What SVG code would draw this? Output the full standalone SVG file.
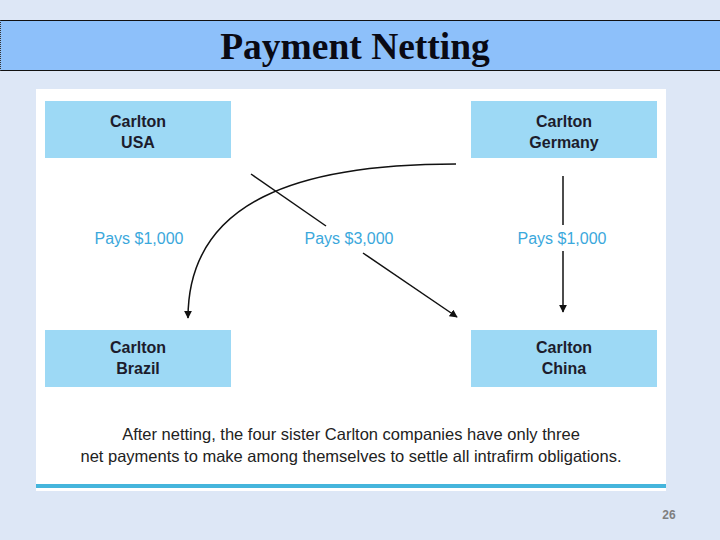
<svg xmlns="http://www.w3.org/2000/svg" width="720" height="540" viewBox="0 0 720 540">
<defs>
<style>
.node rect{fill:#9dd9f5}
.node text{font-family:"Liberation Sans",Arial,sans-serif;font-weight:bold;font-size:16px;fill:#1c1c2c;text-anchor:middle}
.lbl{font-family:"Liberation Sans",Arial,sans-serif;font-size:16px;fill:#3ba8dc;text-anchor:middle}
.note{font-family:"Liberation Sans",Arial,sans-serif;font-size:16.5px;fill:#222;text-anchor:middle}
.conn{fill:none;stroke:#111;stroke-width:1.5}
</style>
<marker id="arr" viewBox="0 0 10 10" refX="9" refY="5" markerWidth="8" markerHeight="8" orient="auto" markerUnits="userSpaceOnUse">
<path d="M0,0 L10,5 L0,10 z" fill="#111"/>
</marker>
</defs>
<rect width="720" height="540" fill="#dde7f6"/>
<rect x="0" y="20" width="720" height="51" fill="#8dc0fa"/>
<line x1="0" y1="20.5" x2="720" y2="20.5" stroke="#111" stroke-width="1"/>
<line x1="0" y1="70.5" x2="720" y2="70.5" stroke="#111" stroke-width="1"/>
<line x1="0.5" y1="20" x2="0.5" y2="71" stroke="#333" stroke-width="1" stroke-dasharray="1,1"/>
<text x="355" y="59" font-family="'Liberation Serif','Times New Roman',serif" font-size="37.5" font-weight="bold" text-anchor="middle" fill="#0a0a14">Payment Netting</text>
<rect x="36" y="89" width="630" height="402" fill="#ffffff"/>
<rect x="36" y="484" width="630" height="4" fill="#45b5dc"/>
<g id="usa" class="node"><rect x="45" y="101" width="186" height="57"/><text x="138" y="127">Carlton</text><text x="138" y="148">USA</text></g>
<g id="germany" class="node"><rect x="471" y="101" width="186" height="57"/><text x="564" y="127">Carlton</text><text x="564" y="148">Germany</text></g>
<g id="brazil" class="node"><rect x="45" y="330" width="186" height="57"/><text x="138" y="353">Carlton</text><text x="138" y="374">Brazil</text></g>
<g id="china" class="node"><rect x="471" y="330" width="186" height="57"/><text x="564" y="353">Carlton</text><text x="564" y="374">China</text></g>
<g id="connectors">
<path class="conn" d="M456,164 C300,164 188,200 188,318" marker-end="url(#arr)"/>
<line class="conn" x1="251" y1="174" x2="326" y2="226"/>
<line class="conn" x1="363" y1="253" x2="457" y2="317" marker-end="url(#arr)"/>
<line class="conn" x1="563" y1="176" x2="563" y2="225"/>
<line class="conn" x1="563" y1="251" x2="563" y2="312" marker-end="url(#arr)"/>
<text class="lbl" x="139" y="244">Pays $1,000</text>
<text class="lbl" x="349" y="244">Pays $3,000</text>
<text class="lbl" x="562" y="244">Pays $1,000</text>
</g>
<text class="note" x="351" y="440">After netting, the four sister Carlton companies have only three</text>
<text class="note" x="351" y="462">net payments to make among themselves to settle all intrafirm obligations.</text>
<text x="669" y="519" font-family="'Liberation Sans',Arial,sans-serif" font-size="12" font-weight="bold" fill="#7f7f7f" text-anchor="middle">26</text>
</svg>
